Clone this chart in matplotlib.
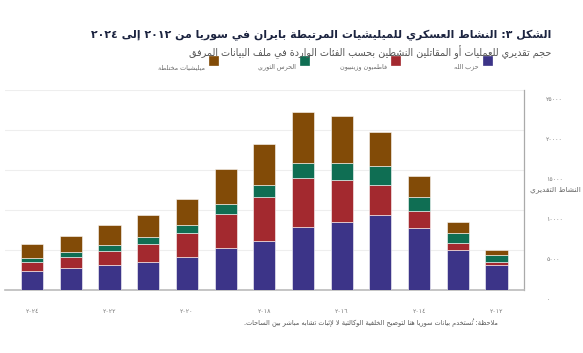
import matplotlib
matplotlib.use("Agg")
import matplotlib.pyplot as plt
from matplotlib.transforms import ScaledTranslation
from matplotlib.patches import Rectangle
import numpy as np

# ---- data ----
years = [2012, 2013, 2014, 2015, 2016, 2017, 2018, 2019, 2020, 2021, 2022, 2023, 2024]
hezbollah = [3100, 5000, 7750, 9400, 8500, 7850, 6100, 5250, 4100, 3500, 3100, 2750, 2400]
fatemiyoun = [400, 850, 2100, 3750, 5250, 6100, 5500, 4250, 3000, 2250, 1750, 1400, 1100]
irgc = [850, 1250, 1750, 2400, 2100, 1900, 1500, 1250, 1000, 850, 750, 600, 500]
mixed = [650, 1400, 2600, 4250, 5900, 6400, 5100, 4400, 3250, 2750, 2500, 2000, 1750]

series_names = ["حزب الله", "فاطميون وزينبيون", "الحرس الثوري", "ميليشيات مختلطة"]
colors = ["#3c3488", "#a3292f", "#0f6e53", "#824b07"]

title = "الشكل ٣: النشاط العسكري للميليشيات المرتبطة بايران في سوريا من ٢٠١٢ إلى ٢٠٢٤"
subtitle = "حجم تقديري للعمليات أو المقاتلين النشطين بحسب الفئات الواردة في ملف البيانات المرفق"
ylabel = "النشاط التقديري"
note = "ملاحظة: تُستخدم بيانات سوريا هنا لتوضيح الخلفية الوكالتية لا لإثبات تشابه مباشر بين الساحات."
yticks = [0, 5000, 10000, 15000, 20000, 25000]
label_years = [2012, 2014, 2016, 2018, 2020, 2022, 2024]

# ---- minimal Arabic shaping + right-to-left ordering (no reshaper libs here) ----
FORMS = {
    "ء": (0xFE80, 1), "آ": (0xFE81, 2), "أ": (0xFE83, 2), "ؤ": (0xFE85, 2),
    "إ": (0xFE87, 2), "ئ": (0xFE89, 4), "ا": (0xFE8D, 2), "ب": (0xFE8F, 4),
    "ة": (0xFE93, 2), "ت": (0xFE95, 4), "ث": (0xFE99, 4), "ج": (0xFE9D, 4),
    "ح": (0xFEA1, 4), "خ": (0xFEA5, 4), "د": (0xFEA9, 2), "ذ": (0xFEAB, 2),
    "ر": (0xFEAD, 2), "ز": (0xFEAF, 2), "س": (0xFEB1, 4), "ش": (0xFEB5, 4),
    "ص": (0xFEB9, 4), "ض": (0xFEBD, 4), "ط": (0xFEC1, 4), "ظ": (0xFEC5, 4),
    "ع": (0xFEC9, 4), "غ": (0xFECD, 4), "ف": (0xFED1, 4), "ق": (0xFED5, 4),
    "ك": (0xFED9, 4), "ل": (0xFEDD, 4), "م": (0xFEE1, 4), "ن": (0xFEE5, 4),
    "ه": (0xFEE9, 4), "و": (0xFEED, 2), "ى": (0xFEEF, 2), "ي": (0xFEF1, 4),
}
LAM_ALEF = {"آ": (0xFEF5, 0xFEF6), "أ": (0xFEF7, 0xFEF8),
            "إ": (0xFEF9, 0xFEFA), "ا": (0xFEFB, 0xFEFC)}


def is_mark(c):
    return "\u064B" <= c <= "\u065F" or c == "\u0670"


def shape(text):
    out = []
    n = len(text)
    i = 0
    prev_dual = False
    while i < n:
        c = text[i]
        if is_mark(c):
            out.append(c)
            i += 1
            continue
        if c not in FORMS:
            out.append(c)
            prev_dual = False
            i += 1
            continue
        j = i + 1
        while j < n and is_mark(text[j]):
            j += 1
        nxt = text[j] if j < n else None
        if c == "ل" and nxt in LAM_ALEF:
            iso, fin = LAM_ALEF[nxt]
            out.append(chr(fin if prev_dual else iso))
            out.extend(text[i + 1:j])
            prev_dual = False
            i = j + 1
            continue
        base, k = FORMS[c]
        cp = prev_dual and k > 1
        cn = k == 4 and nxt in FORMS and FORMS[nxt][1] > 1
        if k == 1:
            g = base
        elif k == 2:
            g = base + 1 if cp else base
        else:
            g = base + (3 if (cp and cn) else 1 if cp else 2 if cn else 0)
        out.append(chr(g))
        prev_dual = k == 4
        i += 1
    return "".join(out)


def ar(text):
    units = []
    for c in shape(text):
        if is_mark(c) and units:
            # mark glyph has no advance; put it just before its letter in visual order
            units[-1] = c + units[-1]
        elif c.isdigit() and units and units[-1].isdigit():
            units[-1] += c
        else:
            units.append(c)
    return "".join(reversed(units))


def ar_num(v):
    return str(v).translate(str.maketrans("0123456789", "٠١٢٣٤٥٦٧٨٩"))


# ---- figure ----
plt.rcParams["font.family"] = ["DejaVu Sans"]
fig = plt.figure(figsize=(5.83, 3.53), dpi=100)
W, H = 583, 353
ax = fig.add_axes([5 / W, 1 - 290 / H, (524 - 5) / W, (290 - 90) / H])

x = np.arange(len(years))
bottom = np.zeros(len(years))
for vals, col in zip([hezbollah, fatemiyoun, irgc, mixed], colors):
    ax.bar(x, vals, width=0.57, bottom=bottom, color=col,
           edgecolor=(1, 1, 1, 0.55), linewidth=0.7, zorder=3)
    bottom += np.array(vals)

ax.set_xlim(12.70, -0.71)
ax.set_ylim(0, 25000)

ax.set_xticks([years.index(y) for y in label_years])
ax.set_xticklabels([ar_num(y) for y in label_years], fontsize=4.5, color="#777777")
ax.tick_params(axis="x", length=0, pad=14)

ax.yaxis.tick_right()
ax.set_yticks(yticks)
ax.set_yticklabels([ar_num(v) for v in yticks], fontsize=4.5, color="#777777")
ax.tick_params(axis="y", length=0, pad=16)
for lab in ax.get_yticklabels():
    lab.set_transform(lab.get_transform() + ScaledTranslation(0, -9 / 100, fig.dpi_scale_trans))

ax.grid(axis="y", color="#eeeeee", linewidth=0.8, zorder=0)
ax.set_axisbelow(True)
for s in ["top", "left"]:
    ax.spines[s].set_visible(False)
ax.spines["right"].set_color("#aaaaaa")
ax.spines["right"].set_linewidth(0.9)
ax.spines["bottom"].set_color("#bbbbbb")
ax.spines["bottom"].set_linewidth(1.2)

fig.text(555 / W, 1 - 190 / H, ar(ylabel), fontsize=5.3, color="#666666",
         ha="center", va="center")

# titles
fig.text(551 / W, 1 - 35 / H, ar(title), fontsize=7.9, fontweight="bold",
         color="#1c2440", ha="right", va="center")
fig.text(551 / W, 1 - 52 / H, ar(subtitle), fontsize=6.9, color="#555555",
         ha="right", va="center")

# legend: squares with labels to their left
legend_sq_x = [487, 395, 304, 213]
for name, col, sx in zip(series_names, colors, legend_sq_x):
    fig.patches.append(Rectangle(((sx - 4.5) / W, 1 - 64.5 / H), 9 / W, 9 / H,
                                 transform=fig.transFigure, facecolor=col,
                                 edgecolor=col, linewidth=0.5))
    fig.text((sx - 8) / W, 1 - 67 / H, ar(name), fontsize=4.6, color="#666666",
             ha="right", va="center")

fig.text(498 / W, 1 - 323 / H, ar(note), fontsize=4.7, color="#555555",
         ha="right", va="center")

fig.savefig("out.png", dpi=100)
